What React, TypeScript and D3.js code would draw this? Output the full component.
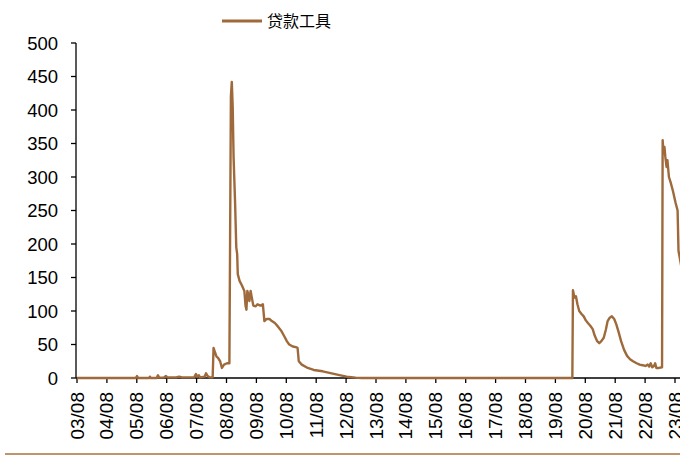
import React from "react";
import * as d3 from "d3";

const seriesName = "贷款工具";
const years: number[] = [
  2003.58, 2005.55, 2005.59, 2005.63, 2006.0, 2006.02, 2006.05, 2006.25, 2006.29, 2006.33,
  2006.5, 2006.56, 2006.6, 2006.9, 2007.0, 2007.1, 2007.5, 2007.56, 2007.6, 2007.66,
  2007.7, 2007.85, 2007.9, 2007.95, 2008.02, 2008.08, 2008.12, 2008.15, 2008.2, 2008.25,
  2008.3, 2008.37, 2008.43, 2008.5, 2008.6, 2008.68, 2008.73, 2008.76, 2008.79, 2008.82,
  2008.87, 2008.91, 2008.94, 2008.96, 2009.02, 2009.1, 2009.18, 2009.22, 2009.25, 2009.28,
  2009.31, 2009.35, 2009.39, 2009.43, 2009.48, 2009.56, 2009.62, 2009.72, 2009.8, 2009.85,
  2009.92, 2010.02, 2010.1, 2010.2, 2010.3, 2010.42, 2010.52, 2010.6, 2010.68, 2010.8,
  2010.9, 2010.96, 2011.0, 2011.1, 2011.3, 2011.5, 2011.8, 2012.1, 2012.4, 2012.6,
  2012.9, 2013.1, 2020.1, 2020.15, 2020.17, 2020.22, 2020.27, 2020.32, 2020.38, 2020.45,
  2020.53, 2020.6, 2020.67, 2020.75, 2020.83, 2020.9, 2020.98, 2021.05, 2021.12, 2021.2,
  2021.27, 2021.33, 2021.4, 2021.47, 2021.55, 2021.62, 2021.7, 2021.78, 2021.88, 2021.98,
  2022.08, 2022.18, 2022.3, 2022.4, 2022.5, 2022.6, 2022.67, 2022.72, 2022.77, 2022.82,
  2022.88, 2022.92, 2022.96, 2023.05, 2023.15, 2023.17, 2023.2, 2023.23, 2023.26, 2023.3,
  2023.33, 2023.38, 2023.45, 2023.52, 2023.6, 2023.67, 2023.7, 2023.8,
];
const values: number[] = [
  0, 0, 3, 0, 0, 2, 0, 0, 4, 0.5,
  1, 3, 1, 1, 2, 1, 1, 6, 2, 4,
  1, 2, 7, 3, 1, 1, 1, 45, 38, 32,
  30, 25, 15, 20, 22, 22, 420, 442, 405, 330,
  262, 195, 185, 155, 145, 138, 130, 108, 102, 130,
  125, 115, 130, 120, 108, 107, 110, 108, 110, 85,
  88, 88, 85, 82, 77, 70, 62, 55, 50, 47,
  46, 45, 25, 20, 15, 12, 10, 7, 4, 2,
  0.5, 0, 0, 0, 131, 120, 122, 110, 100, 96,
  92, 86, 82, 78, 73, 63, 55, 52, 55, 60,
  72, 85, 90, 92, 88, 80, 68, 55, 42, 33,
  28, 25, 22, 20, 19, 18, 20, 17, 22, 16,
  18, 22, 15, 15, 16, 355, 335, 345, 330, 315,
  325, 300, 290, 278, 262, 250, 190, 165,
];
const xTickLabels: string[] = [
  "03/08", "04/08", "05/08", "06/08", "07/08", "08/08", "09/08", "10/08", "11/08", "12/08",
  "13/08", "14/08", "15/08", "16/08", "17/08", "18/08", "19/08", "20/08", "21/08", "22/08", "23/08",
];
const yTicks: number[] = [0, 50, 100, 150, 200, 250, 300, 350, 400, 450, 500];

const W = 680;
const H = 455;
const color = "#9F6A3B";
const font = "'Liberation Sans', Arial, sans-serif";

export default function App() {
  const x = d3.scaleLinear().domain([2003.583, 2023.583]).range([77, 675]);
  const y = d3.scaleLinear().domain([0, 500]).range([378, 43]);
  const data = years.map((t, i) => [t, values[i]] as [number, number]);
  const line = d3
    .line<[number, number]>()
    .x((d) => x(d[0]))
    .y((d) => y(d[1]));
  const axisX = 76;
  const axisY = 378;
  return (
    <svg
      width={W}
      height={H}
      style={{ position: "absolute", left: 0, top: 0, background: "#fff" }}
    >
      {/* legend */}
      <line x1={222} x2={262} y1={21} y2={21} stroke={color} strokeWidth={3} />
      <text
        x={267}
        y={27}
        fontSize={16}
        fontFamily="'Noto Sans CJK SC', sans-serif"
        fill="#000"
      >
        {seriesName}
      </text>

      {/* y axis */}
      <line x1={axisX} x2={axisX} y1={y(500)} y2={axisY} stroke="#000" strokeWidth={1.3} />
      {yTicks.map((v) => (
        <g key={v}>
          <line x1={axisX - 5} x2={axisX} y1={y(v)} y2={y(v)} stroke="#000" strokeWidth={1.3} />
          <text
            x={58}
            y={y(v) + 6.5}
            textAnchor="end"
            fontSize={18.5}
            fontFamily={font}
            fill="#000"
          >
            {v}
          </text>
        </g>
      ))}

      {/* x axis */}
      <line x1={axisX} x2={W} y1={axisY} y2={axisY} stroke="#000" strokeWidth={1.3} />
      {xTickLabels.map((lab, i) => {
        const px = x(2003.583 + i);
        return (
          <g key={lab}>
            <line x1={px} x2={px} y1={axisY} y2={axisY + 5} stroke="#000" strokeWidth={1.3} />
            <text
              transform={`translate(${px + 6.5},${392}) rotate(-90)`}
              textAnchor="end"
              fontSize={19}
              fontFamily={font}
              fill="#000"
            >
              {lab}
            </text>
          </g>
        );
      })}

      {/* series */}
      <path d={line(data) || ""} fill="none" stroke={color} strokeWidth={2.4} strokeLinejoin="round" />

      {/* bottom rule */}
      <line x1={5} x2={W} y1={454} y2={454} stroke="#A8703A" strokeWidth={1.5} />
    </svg>
  );
}
